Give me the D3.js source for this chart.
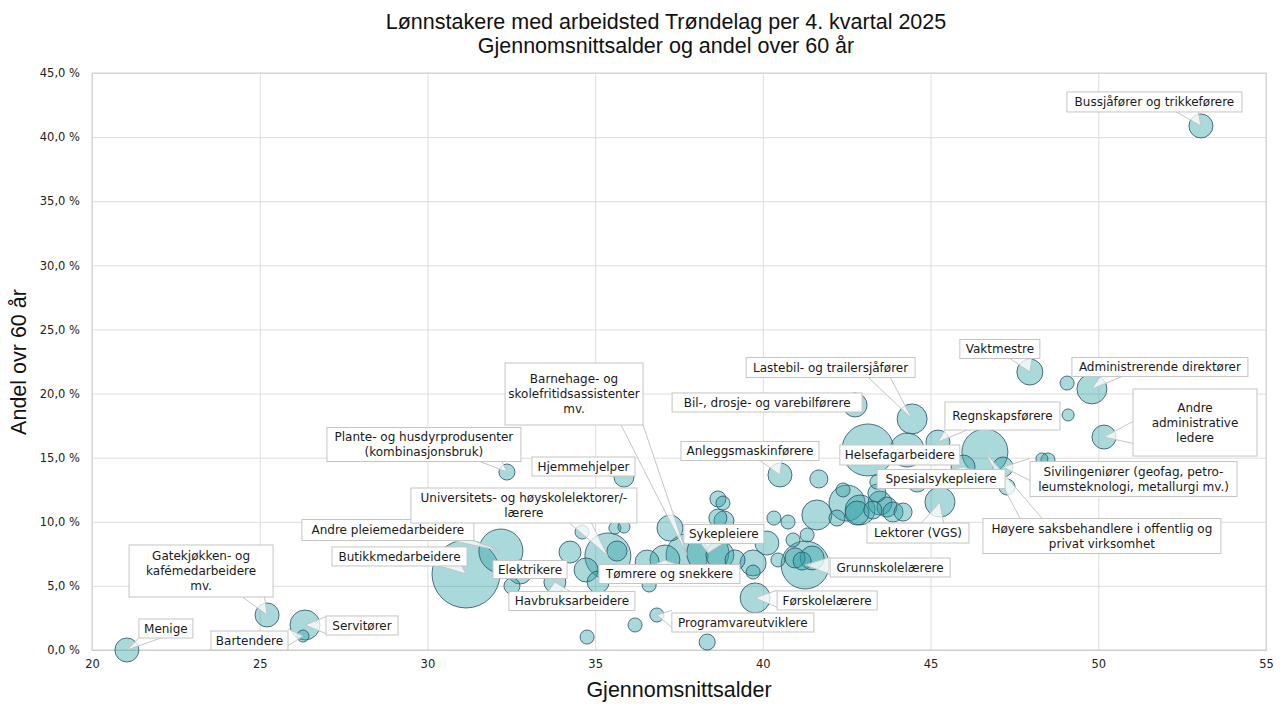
<!DOCTYPE html>
<html>
<head>
<meta charset="utf-8">
<script src="https://cdn.jsdelivr.net/npm/d3@7"></script>
<style>
  body { margin: 0; background: #fff; }
  svg { display: block; }
</style>
</head>
<body>
<svg id="chart" width="1280" height="710"></svg>
<script>
// occupations ("" = not labelled in the chart)
var occupations = [
  "Menige", "Gatekjøkken- og kafémedarbeidere mv.", "Servitører", "Bartendere",
  "Butikkmedarbeidere", "Andre pleiemedarbeidere", "Plante- og husdyrprodusenter (kombinasjonsbruk)",
  "Elektrikere", "Havbruksarbeidere", "Universitets- og høyskolelektorer/-lærere", "Hjemmehjelper",
  "Tømrere og snekkere", "Barnehage- og skolefritidsassistenter mv.", "Sykepleiere",
  "Programvareutviklere", "Førskolelærere", "Anleggsmaskinførere", "Grunnskolelærere",
  "Bil-, drosje- og varebilførere", "Helsefagarbeidere", "Lastebil- og trailersjåfører",
  "Regnskapsførere", "Lektorer (VGS)", "Spesialsykepleiere",
  "Høyere saksbehandlere i offentlig og privat virksomhet",
  "Sivilingeniører (geofag, petroleumsteknologi, metallurgi mv.)", "Vaktmestre",
  "Administrerende direktører", "Andre administrative ledere", "Bussjåfører og trikkeførere",
  "", "", "", "", "", "", "", "", "", "", "", "", "", "", "", "", "", "", "", "",
  "", "", "", "", "", "", "", "", "", "", "", "", "", "", "", "", "", "", "", "",
  "", "", "", "", "", "", "", "", "", "", "", "", ""
];
// gjennomsnittsalder
var avgAge = [
  21.04, 25.22, 26.35, 26.29, 31.15, 32.19, 32.37, 32.76, 33.80, 35.38,
  35.86, 37.08, 37.74, 38.36, 36.84, 39.77, 40.51, 41.26, 42.75, 43.13,
  44.45, 45.22, 45.28, 45.97, 46.62, 47.16, 47.96, 49.81, 50.17, 53.06,
  32.52, 34.25, 34.73, 35.09, 34.61, 35.65, 35.59, 35.86, 34.76, 36.19,
  36.55, 36.61, 37.23, 38.34, 38.66, 38.81, 38.66, 38.84, 38.72, 39.17,
  39.71, 39.71, 40.12, 40.33, 40.75, 40.90, 41.32, 40.45, 40.96, 41.17,
  41.47, 41.67, 41.61, 42.21, 42.51, 42.90, 42.81, 42.39, 43.28, 43.40,
  43.40, 43.49, 43.70, 43.88, 44.18, 44.30, 44.60, 47.28, 48.32, 48.50,
  49.07, 49.10, 51.18, 46.24, 39.77
];
// andel over 60 år (prosent)
var shareOver60 = [
  0.0, 2.73, 1.95, 1.09, 5.93, 7.72, 13.88, 6.08, 5.30, 7.33,
  13.49, 7.02, 7.41, 7.57, 2.73, 4.06, 13.65, 6.63, 19.11, 15.60,
  18.02, 16.22, 11.54, 14.27, 15.44, 14.27, 21.68, 20.36, 16.61, 40.87,
  4.99, 7.64, 6.24, 5.30, 9.20, 7.72, 9.51, 9.59, 1.01, 1.95,
  6.86, 5.07, 9.51, 0.62, 11.78, 11.46, 10.29, 10.06, 7.41, 7.02,
  6.79, 6.08, 8.34, 10.29, 9.98, 8.58, 8.97, 7.02, 7.18, 6.94,
  7.18, 13.34, 10.53, 10.29, 11.46, 10.92, 10.68, 12.48, 10.92, 13.10,
  12.24, 11.46, 11.15, 10.76, 10.76, 15.60, 13.10, 12.71, 14.90, 14.82,
  20.82, 18.33, 13.80, 17.39, 4.06
];
// antall lønnstakere
var employees = [
  1430, 1430, 2240, 360, 11500, 4810, 640, 1430, 1200, 5260,
  1000, 2240, 4390, 4390, 490, 2240, 1430, 5730, 1430, 6720,
  2240, 1430, 2240, 1430, 5260, 1000, 1680, 2240, 1430, 1430,
  640, 1200, 1430, 1200, 490, 1000, 360, 360, 490, 490,
  1430, 490, 1680, 640, 640, 490, 810, 1000, 1950, 1000,
  1680, 490, 1430, 490, 490, 490, 490, 490, 1000, 810,
  1430, 810, 2240, 640, 3220, 2240, 1430, 490, 810, 490,
  810, 1430, 1000, 1000, 810, 2880, 1000, 640, 360, 490,
  490, 360, 360, 250, 810
];

var xTicks = [20, 25, 30, 35, 40, 45, 50, 55];
var yTicks = [0, 5, 10, 15, 20, 25, 30, 35, 40, 45];
var titleLines = ["Lønnstakere med arbeidsted Trøndelag per 4. kvartal 2025",
                  "Gjennomsnittsalder og andel over 60 år"];

// callout text and where the box sits relative to its bubble (px)
var callouts = [
  {i: 0,  lines: ["Menige"], dx: 39, dy: -21.5, w: 54, h: 19},
  {i: 1,  lines: ["Gatekjøkken- og", "kafémedarbeidere", "mv."], dx: -66, dy: -44, w: 144, h: 52},
  {i: 2,  lines: ["Servitører"], dx: 57, dy: 0.5, w: 72, h: 19},
  {i: 3,  lines: ["Bartendere"], dx: -53.5, dy: 4.5, w: 77, h: 19},
  {i: 4,  lines: ["Butikkmedarbeidere"], dx: -66.5, dy: -17.5, w: 135, h: 19},
  {i: 5,  lines: ["Andre pleiemedarbeidere"], dx: -113, dy: -21, w: 172, h: 21},
  {i: 6,  lines: ["Plante- og husdyrprodusenter", "(kombinasjonsbruk)"], dx: -83, dy: -27.5, w: 194, h: 34},
  {i: 7,  lines: ["Elektrikere"], dx: 10, dy: -2.5, w: 74, h: 18},
  {i: 8,  lines: ["Havbruksarbeidere"], dx: 17, dy: 19, w: 126, h: 19},
  {i: 9,  lines: ["Universitets- og høyskolelektorer/-", "lærere"], dx: -84, dy: -50.5, w: 226, h: 35},
  {i: 10, lines: ["Hjemmehjelper"], dx: -40.5, dy: -10.5, w: 103, h: 19},
  {i: 11, lines: ["Tømrere og snekkere"], dx: 4.5, dy: 14, w: 141, h: 19},
  {i: 12, lines: ["Barnehage- og", "skolefritidsassistenter", "mv."], dx: -113, dy: -161, w: 138, h: 62},
  {i: 13, lines: ["Sykepleiere"], dx: 16, dy: -19, w: 80, h: 19},
  {i: 14, lines: ["Programvareutviklere"], dx: 86, dy: 7.5, w: 142, h: 19},
  {i: 15, lines: ["Førskolelærere"], dx: 72, dy: 2.5, w: 100, h: 19},
  {i: 16, lines: ["Anleggsmaskinførere"], dx: -30, dy: -24, w: 138, h: 19},
  {i: 17, lines: ["Grunnskolelærere"], dx: 85, dy: 2.5, w: 120, h: 19},
  {i: 18, lines: ["Bil-, drosje- og varebilførere"], dx: -88, dy: -2.5, w: 190, h: 19},
  {i: 19, lines: ["Helsefagarbeidere"], dx: 32, dy: 5, w: 120, h: 20},
  {i: 20, lines: ["Lastebil- og trailersjåfører"], dx: -81.5, dy: -51.5, w: 169, h: 20},
  {i: 21, lines: ["Regnskapsførere"], dx: 64.5, dy: -26, w: 115, h: 28},
  {i: 22, lines: ["Lektorer (VGS)"], dx: -22, dy: 31, w: 102, h: 20},
  {i: 23, lines: ["Spesialsykepleiere"], dx: -22, dy: 12, w: 128, h: 19},
  {i: 24, lines: ["Høyere saksbehandlere i offentlig og", "privat virksomhet"], dx: 117, dy: 84, w: 238, h: 35},
  {i: 25, lines: ["Sivilingeniører (geofag, petro-", "leumsteknologi, metallurgi mv.)"], dx: 130.5, dy: 12, w: 207, h: 35},
  {i: 26, lines: ["Vaktmestre"], dx: -30, dy: -23, w: 80, h: 19},
  {i: 27, lines: ["Administrerende direktører"], dx: 68, dy: -22, w: 176, h: 19},
  {i: 28, lines: ["Andre", "administrative", "ledere"], dx: 91, dy: -14.5, w: 124, h: 67},
  {i: 29, lines: ["Bussjåfører og trikkeførere"], dx: -46.5, dy: -24, w: 175, h: 20}
];

var svg = d3.select("svg#chart");

var x = d3.scaleLinear().domain([20, 55]).range([92, 1266]);
var y = d3.scaleLinear().domain([0, 45]).range([650, 73]);
var r = d3.scaleSqrt().domain([0, d3.max(employees)]).range([0, 34]);

var pct = function(v) { return d3.format(".1f")(v).replace(".", ",") + " %"; };

// grid + axes
var gy = svg.append("g")
    .attr("transform", "translate(92,0)")
    .call(d3.axisLeft(y).tickValues(yTicks).tickSize(-(1266 - 92)).tickPadding(12).tickFormat(pct));
var gx = svg.append("g")
    .attr("transform", "translate(0,650)")
    .call(d3.axisBottom(x).tickValues(xTicks).tickSize(-(650 - 73)).tickPadding(10));
[gx, gy].forEach(function(g) {
  g.select(".domain").attr("stroke", "#c8c8c8");
  g.selectAll(".tick line").attr("stroke", "#dcdcdc");
  g.selectAll(".tick text")
    .attr("fill", "#222")
    .style("font-family", "'DejaVu Sans', Verdana, sans-serif")
    .style("font-size", "11.5px");
});
svg.append("rect")
  .attr("x", 92).attr("y", 73).attr("width", 1266 - 92).attr("height", 650 - 73)
  .attr("fill", "none").attr("stroke", "#d0d0d0");

// bubbles
var points = occupations.map(function(name, i) {
  return {name: name, age: avgAge[i], share: shareOver60[i], n: employees[i], i: i};
});
var drawOrder = points.slice().sort(function(a, b) { return b.n - a.n; });

svg.append("g").selectAll("circle")
  .data(drawOrder)
  .enter().append("circle")
    .attr("cx", function(d) { return x(d.age); })
    .attr("cy", function(d) { return y(d.share); })
    .attr("r", function(d) { return r(d.n); })
    .attr("fill", "#2aa0a6")
    .attr("fill-opacity", 0.4)
    .attr("stroke", "#34566b")
    .attr("stroke-opacity", 0.85)
    .attr("stroke-width", 1);

// callouts
var boxes = callouts.map(function(c) {
  var p = points[c.i];
  var cx = x(p.age) + c.dx, cy = y(p.share) + c.dy;
  return {c: c, ax: x(p.age), ay: y(p.share),
          x0: cx - c.w / 2, x1: cx + c.w / 2, y0: cy - c.h / 2, y1: cy + c.h / 2, cx: cx, cy: cy};
});

function tail(b) {
  var hw = 11;
  if (b.ax > b.x0 && b.ax < b.x1 && b.ay > b.y0 && b.ay < b.y1) return null;
  var dx = b.ax - b.cx, dy = b.ay - b.cy;
  var tx = dx === 0 ? Infinity : (b.x1 - b.x0) / 2 / Math.abs(dx);
  var ty = dy === 0 ? Infinity : (b.y1 - b.y0) / 2 / Math.abs(dy);
  var p1, p2;
  if (ty <= tx) {
    var ey = dy > 0 ? b.y1 : b.y0;
    var mx = Math.max(b.x0 + hw, Math.min(b.x1 - hw, (b.ax + b.cx + dx * ty) / 2));
    p1 = [mx - hw, ey]; p2 = [mx + hw, ey];
  } else {
    var ex = dx > 0 ? b.x1 : b.x0;
    var my = Math.max(b.y0 + 6, Math.min(b.y1 - 6, b.cy + dy * tx));
    var hh = Math.min(hw, (b.y1 - b.y0) / 2 - 1);
    p1 = [ex, my - hh]; p2 = [ex, my + hh];
  }
  return [p1, [b.ax, b.ay], p2];
}

var cg = svg.append("g");
cg.selectAll("path.tail")
  .data(boxes.filter(function(b) { return tail(b); }))
  .enter().append("path")
    .attr("class", "tail")
    .attr("d", function(b) { return d3.line()(tail(b)); })
    .attr("fill", "#ffffff")
    .attr("fill-opacity", 0.75)
    .attr("stroke", "#c4c4c4")
    .attr("stroke-width", 1);

cg.selectAll("rect.box")
  .data(boxes)
  .enter().append("rect")
    .attr("class", "box")
    .attr("x", function(b) { return b.x0; })
    .attr("y", function(b) { return b.y0; })
    .attr("width", function(b) { return b.x1 - b.x0; })
    .attr("height", function(b) { return b.y1 - b.y0; })
    .attr("fill", "#fff")
    .attr("stroke", "#c4c4c4")
    .attr("stroke-width", 1);

var lh = 15;
cg.selectAll("text.lbl")
  .data(boxes)
  .enter().append("text")
    .attr("class", "lbl")
    .attr("text-anchor", "middle")
    .style("font-family", "'DejaVu Sans', Verdana, sans-serif")
    .style("font-size", "12px")
    .attr("fill", "#1a1a1a")
    .each(function(b) {
      var n = b.c.lines.length;
      var t = d3.select(this);
      b.c.lines.forEach(function(line, k) {
        t.append("tspan")
          .attr("x", b.cx)
          .attr("y", b.cy + (k - (n - 1) / 2) * lh + 4.3)
          .text(line);
      });
    });

// titles
svg.append("text")
  .attr("text-anchor", "middle")
  .style("font-family", "'Liberation Sans', Arial, sans-serif")
  .style("font-size", "21.5px")
  .attr("fill", "#111")
  .selectAll("tspan")
  .data(titleLines)
  .enter().append("tspan")
    .attr("x", 666)
    .attr("y", function(d, i) { return 29 + i * 24; })
    .text(function(d) { return d; });

svg.append("text")
  .attr("x", 679).attr("y", 697)
  .attr("text-anchor", "middle")
  .style("font-family", "'Liberation Sans', Arial, sans-serif")
  .style("font-size", "21.5px")
  .attr("fill", "#111")
  .text("Gjennomsnittsalder");

svg.append("text")
  .attr("transform", "translate(26,362) rotate(-90)")
  .attr("text-anchor", "middle")
  .style("font-family", "'Liberation Sans', Arial, sans-serif")
  .style("font-size", "21.5px")
  .attr("fill", "#111")
  .text("Andel ovr 60 år");
</script>
</body>
</html>
